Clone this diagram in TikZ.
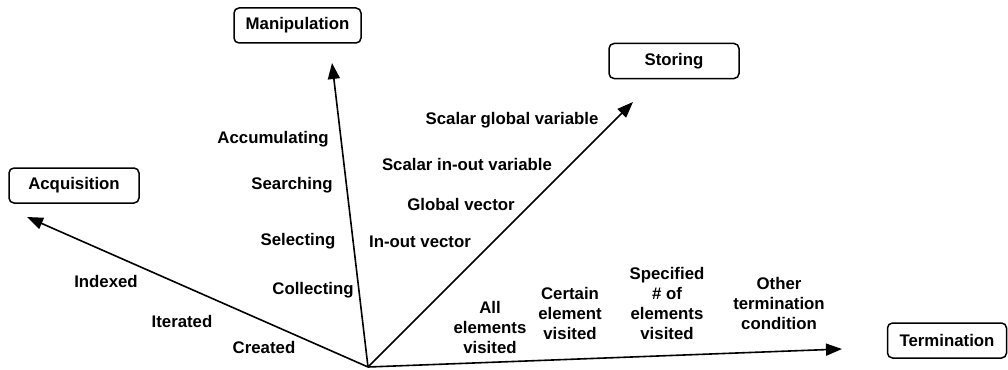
\documentclass[tikz,border=0pt]{standalone}
\usepackage{fontspec}
\setmainfont{Liberation Sans}
\usetikzlibrary{arrows.meta}
\begin{document}
\begin{tikzpicture}[x=1pt,y=-1pt,
  every node/.style={font=\fontsize{16.8}{20}\selectfont\bfseries, inner sep=0pt},
  axisbox/.style={draw, line width=1.5pt, rounded corners=5pt, minimum height=35pt},
  axis/.style={line width=1.6pt, -{Triangle[length=16pt,width=12pt]}},
  lbl/.style={align=center}]
\useasboundingbox (0,0) rectangle (1008,369);

% axis end points
\coordinate (O) at (368,367);
\coordinate (acqTip) at (27,217);
\coordinate (manTip) at (332,63);
\coordinate (stoTip) at (633,102);
\coordinate (terTip) at (842,349);

% axis boxes
\node[axisbox, minimum width=130pt] (acq) at (74,185.5) {Acquisition};
\node[axisbox, minimum width=127pt] (man) at (297.5,25.5) {Manipulation};
\node[axisbox, minimum width=130pt] (sto) at (674,61) {Storing};
\node[axisbox, minimum width=119pt] (ter) at (947,340.5) {Termination};

% axes
\draw[axis] (O) -- (acqTip);
\draw[axis] (O) -- (manTip);
\draw[axis] (O) -- (stoTip);
\draw[axis] (O) -- (terTip);

% acquisition values
\node (a1) at (106,281) {Indexed};
\node (a2) at (182,321) {Iterated};
\node (a3) at (264,347) {Created};

% manipulation values
\node (m1) at (273,139) {Accumulating};
\node (m2) at (292,185) {Searching};
\node (m3) at (298,241) {Selecting};
\node (m4) at (313,290) {Collecting};

% storing values
\node (s1) at (512,120) {Scalar global variable};
\node (s2) at (467,164) {Scalar in-out variable};
\node (s3) at (461,204) {Global vector};
\node (s4) at (420,242) {In-out vector};

% termination values
\node[lbl] (t1) at (490,327) {All\\elements\\visited};
\node[lbl] (t2) at (570,313) {Certain\\element\\visited};
\node[lbl] (t3) at (667,303) {Specified\\\# of\\elements\\visited};
\node[lbl] (t4) at (779,303) {Other\\termination\\condition};
\end{tikzpicture}
\end{document}
